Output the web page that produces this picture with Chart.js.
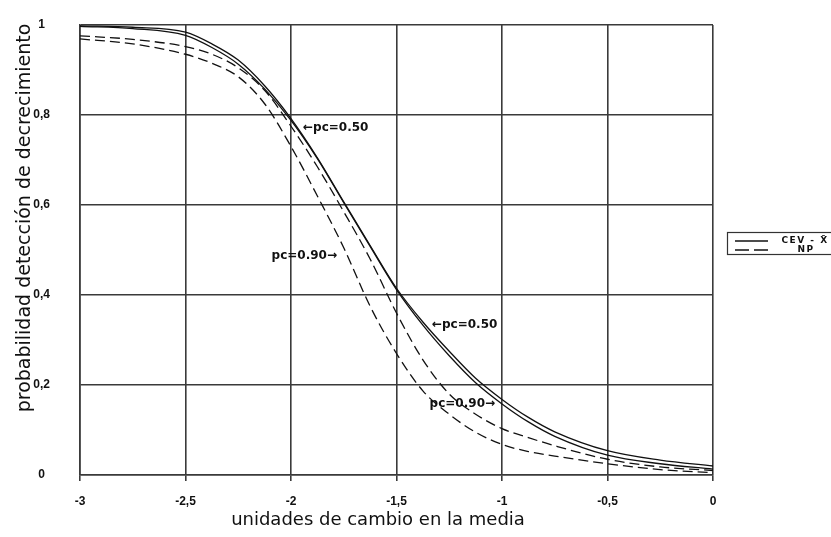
<!DOCTYPE html>
<html>
<head>
<meta charset="utf-8">
<script src="https://cdn.jsdelivr.net/npm/chart.js@4"></script>
<style>
body { margin: 0; background: #fff; }
</style>
</head>
<body>
<canvas id="myChart" width="831" height="537"></canvas>
<script>
// change in the mean (x) and detection probability for each scheme
const xValues = [-3, -2.75, -2.5, -2.375, -2.25, -2.125, -2, -1.875, -1.75, -1.625, -1.5, -1.375, -1.25, -1.125, -1, -0.875, -0.75, -0.5, -0.25, 0];
const cevPc50 = [0.998, 0.995, 0.984, 0.958, 0.922, 0.865, 0.792, 0.705, 0.607, 0.51, 0.415, 0.34, 0.275, 0.215, 0.168, 0.128, 0.096, 0.054, 0.033, 0.02];
const cevPc90 = [0.997, 0.992, 0.977, 0.95, 0.913, 0.858, 0.788, 0.703, 0.605, 0.508, 0.412, 0.333, 0.265, 0.205, 0.158, 0.118, 0.086, 0.044, 0.025, 0.013];
const npPc50 = [0.976, 0.968, 0.952, 0.935, 0.905, 0.855, 0.775, 0.685, 0.585, 0.48, 0.36, 0.256, 0.18, 0.135, 0.103, 0.083, 0.065, 0.035, 0.018, 0.01];
const npPc90 = [0.969, 0.958, 0.935, 0.915, 0.885, 0.825, 0.73, 0.62, 0.505, 0.375, 0.27, 0.187, 0.135, 0.095, 0.068, 0.052, 0.042, 0.025, 0.012, 0.005];

const legendLabels = ["CEV - X\u0304", "NP"];
const noteTexts = ["\u2190pc=0.50", "pc=0.90\u2192", "\u2190pc=0.50", "pc=0.90\u2192"];
const noteX = [-1.943, -1.782, -1.332, -1.033];
const noteY = [0.772, 0.487, 0.333, 0.158];
const noteAlign = ["left", "right", "left", "right"];

const ink = "#111";
const gridColor = "#3a3a3a";

function toPoints(ys) {
    return xValues.map((x, i) => ({ x: x, y: ys[i] }));
}

function lineSet(label, ys, dash) {
    return {
        label: label,
        data: toPoints(ys),
        borderColor: ink,
        borderWidth: 1.3,
        borderDash: dash,
        pointRadius: 0,
        fill: false,
        cubicInterpolationMode: "monotone",
    };
}

const fmt = (v) => String(Math.round(v * 10) / 10).replace(".", ",");

// annotations, axis titles and the boxed legend
const extras = {
    id: "extras",
    afterDatasetsDraw(chart) {
        const ctx = chart.ctx;
        const xs = chart.scales.x;
        const ys = chart.scales.y;
        ctx.save();
        ctx.fillStyle = ink;
        ctx.textBaseline = "middle";
        ctx.font = "bold 12px 'DejaVu Sans'";
        noteTexts.forEach((t, i) => {
            ctx.textAlign = noteAlign[i];
            ctx.fillText(t, xs.getPixelForValue(noteX[i]), ys.getPixelForValue(noteY[i]));
        });

        ctx.font = "18px 'DejaVu Sans'";
        ctx.textAlign = "center";
        ctx.fillText("unidades de cambio en la media", 378, 520);
        ctx.save();
        ctx.translate(25, 218);
        ctx.rotate(-Math.PI / 2);
        ctx.font = "19px 'DejaVu Sans'";
        ctx.fillText("probabilidad detección de decrecimiento", 0, 0);
        ctx.restore();

        // legend
        ctx.strokeStyle = "#333";
        ctx.lineWidth = 1.2;
        ctx.strokeRect(727.5, 232.5, 120, 22);
        ctx.strokeStyle = ink;
        ctx.lineWidth = 1.3;
        ctx.beginPath();
        ctx.moveTo(735, 241);
        ctx.lineTo(768, 241);
        ctx.stroke();
        ctx.setLineDash([14, 5]);
        ctx.beginPath();
        ctx.moveTo(735, 250);
        ctx.lineTo(768, 250);
        ctx.stroke();
        ctx.setLineDash([]);
        ctx.font = "bold 9px 'DejaVu Sans'";
        ctx.letterSpacing = "1.5px";
        ctx.textAlign = "center";
        ctx.fillText(legendLabels[0], 805, 241);
        ctx.fillText(legendLabels[1], 806, 250);
        ctx.restore();
    },
};

const tickFont = { family: "'Liberation Sans', Arial", size: 12, weight: "bold" };

const config = {
    type: "line",
    data: {
        datasets: [
            lineSet("CEV pc=0.50", cevPc50, []),
            lineSet("CEV pc=0.90", cevPc90, []),
            lineSet("NP pc=0.50", npPc50, [10, 5]),
            lineSet("NP pc=0.90", npPc90, [10, 5]),
        ],
    },
    options: {
        responsive: false,
        animation: false,
        layout: { padding: { top: 25, right: 118, left: 0, bottom: 0 } },
        plugins: { legend: { display: false }, tooltip: { enabled: false } },
        scales: {
            x: {
                type: "linear",
                min: -3,
                max: 0,
                afterFit: (s) => { s.height = 62; },
                grid: { color: gridColor, lineWidth: 1.6, tickLength: 6 },
                border: { color: gridColor, width: 1.6 },
                ticks: {
                    stepSize: 0.5,
                    padding: 13,
                    color: ink,
                    font: tickFont,
                    callback: fmt,
                    maxRotation: 0,
                },
            },
            y: {
                min: 0,
                max: 1,
                afterFit: (s) => { s.width = 80; },
                // long invisible tick marks push the labels left without adding top padding
                grid: { color: gridColor, lineWidth: 1.6, tickLength: 30, tickColor: "rgba(0,0,0,0)" },
                border: { color: gridColor, width: 1.6 },
                ticks: {
                    stepSize: 0.2,
                    padding: 0,
                    crossAlign: "center",
                    color: ink,
                    font: tickFont,
                    callback: fmt,
                },
            },
        },
    },
    plugins: [extras],
};

const myChart = new Chart(document.getElementById("myChart"), config);
</script>
</body>
</html>
